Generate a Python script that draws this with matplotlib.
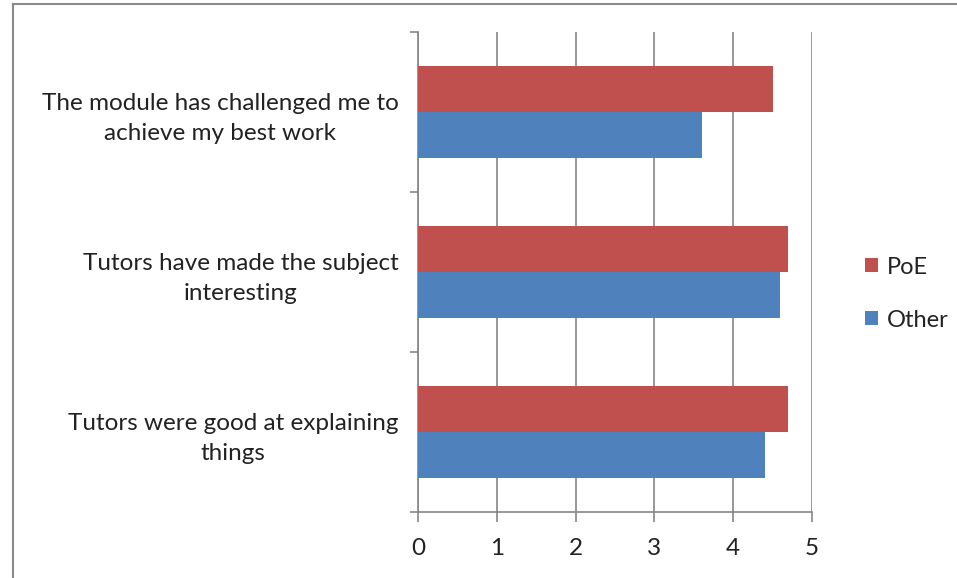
import matplotlib
matplotlib.use("Agg")
import matplotlib.pyplot as plt
from matplotlib.lines import Line2D
import numpy as np

categories = ["The module has challenged me to\nachieve my best work",
              "Tutors have made the subject\ninteresting",
              "Tutors were good at explaining\nthings"]
poe = [4.5, 4.7, 4.7]
other = [3.6, 4.6, 4.4]
series_names = ["PoE", "Other"]
xticks = [0, 1, 2, 3, 4, 5]

plt.rcParams['font.family'] = ['Lato', 'DejaVu Sans']

W, H = 957, 578
fig = plt.figure(figsize=(W/100, H/100), dpi=100)
ax = fig.add_axes([418/W, 1-512/H, (812-418)/W, (512-32)/H])

red = "#C0504D"
blue = "#4F81BD"
grid = "#868686"
txt = "#222222"
fs = 17.5

y = np.arange(len(categories)) + 0.5
h = 0.285
ax.barh(y - h/2, poe, height=h, color=red, label=series_names[0], zorder=3)
ax.barh(y + h/2, other, height=h, color=blue, label=series_names[1], zorder=3)

ax.set_ylim(3, 0)
ax.set_xlim(0, 5)
ax.set_xticks(xticks)
ax.set_xticklabels([str(t) for t in xticks], fontsize=fs, color=txt)
ax.set_yticks([0, 1, 2, 3])
ax.set_yticklabels([])
ax.set_yticks(y, minor=True)
ax.set_yticklabels(categories, minor=True, fontsize=fs, color=txt,
                   multialignment='center', linespacing=1.55)
ax.tick_params(axis='y', which='minor', length=0, pad=14)
ax.tick_params(axis='y', which='major', length=6, color=grid, width=1.2)
ax.tick_params(axis='x', length=7, color=grid, width=1.2, pad=12)
ax.grid(axis='x', color=grid, linewidth=1.2, zorder=0)
for s in ['top', 'right']:
    ax.spines[s].set_visible(False)
for s in ['left', 'bottom']:
    ax.spines[s].set_color(grid)
    ax.spines[s].set_linewidth(1.2)

leg = ax.legend(loc='center left', bbox_to_anchor=(1.08, 0.455), frameon=False,
                fontsize=17, handlelength=0.55, handleheight=0.55,
                labelspacing=1.35, handletextpad=0.4)
for t in leg.get_texts():
    t.set_color(txt)

# outer chart border
fig.add_artist(Line2D([13/W, 13/W], [0, 1-4/H], transform=fig.transFigure,
                      color="#8a8a8a", linewidth=1.5))
fig.add_artist(Line2D([13/W, 1], [1-4/H, 1-4/H], transform=fig.transFigure,
                      color="#8a8a8a", linewidth=1.5))

fig.savefig("out.png", dpi=100)
